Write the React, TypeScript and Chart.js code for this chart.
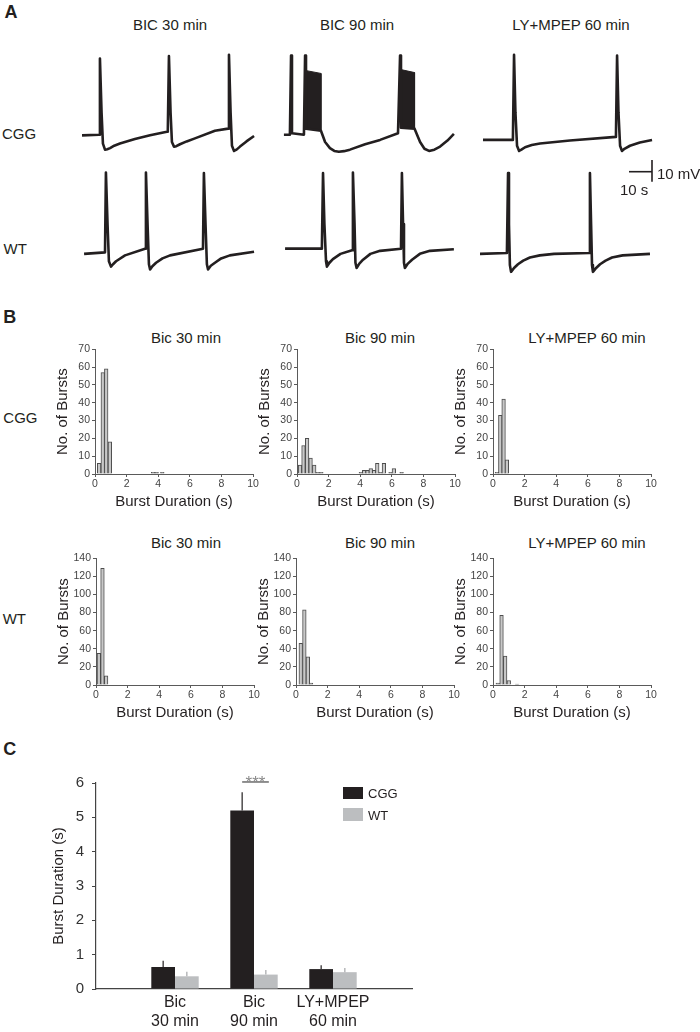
import React, { useEffect, useRef } from 'react';
import { Chart, registerables } from 'chart.js';

Chart.register(...registerables);

const FONT = "'Liberation Sans', Arial, Helvetica, sans-serif";
Chart.defaults.font.family = FONT;

type Pt = [number, number];

const INK = '#231f20';
const LIGHT = '#bcbec0';

// ---------------- Panel A data (time s, membrane potential mV relative to rest) ----------------
const conditionTitles = ['BIC 30 min', 'BIC 90 min', 'LY+MPEP 60 min'];
const genotypes = ['CGG', 'WT'];
const scaleBarSeconds = 10;
const scaleBarMillivolts = 10;

const cggBic30Trace: Pt[] = [
  [0, 0], [7.4, 0.3], [7.8, 35.5], [8.5, 10.7], [9.1, -3.8], [10.0, -6.6], [11.0, -6.4], [12.2, -5.9], [14.0, -4.8], [16.5, -3.8],
  [23.0, -1.7], [29.6, 0], [36.9, 1.7], [37.3, 1.7], [37.8, 36.6], [38.5, 10.7], [39.1, -3.1], [40.0, -5.2], [41.0, -5.0],
  [42.6, -4.1], [45.5, -2.8], [49.1, -1.4], [57.8, 2.1], [63.5, 3.1], [63.9, 37.2], [64.6, 10.7], [65.2, -4.8], [66.1, -7.2],
  [67.2, -6.6], [68.7, -5.2], [71.5, -2.8], [74.8, -0.3],
];
const cggBic90Trace: Pt[] = [
  [0.4, 0.3], [3.0, 0.3], [3.5, 36.9], [3.9, 1.0], [9.1, 0.3], [9.6, 36.9], [10.0, 3.1], [16.5, 2.1],
  [18.3, -3.1], [20.4, -5.9], [22.3, -7.2], [24.3, -7.6], [26.5, -7.3], [29.1, -6.6], [35.7, -4.1], [42.2, -2.1], [50.0, 1.0],
  [50.9, 36.9], [51.3, 3.5], [57.2, 3.1], [59.6, -3.1], [61.5, -6.2], [63.5, -7.2], [65.8, -6.6], [68.3, -5.2], [71.5, -2.4], [74.3, 0.7],
];
const cggBic90Bursts: Pt[][] = [
  [[9.6, 2.8], [9.6, 30.0], [16.5, 28.6], [16.5, 2.1]],
  [[51.2, 3.5], [51.2, 30.4], [57.2, 29.0], [57.2, 3.1]],
];
const cggLyTrace: Pt[] = [
  [1.3, -2.1], [14.3, -2.1], [14.8, 37.2], [15.4, 10.7], [16.1, -4.8], [17.0, -7.2], [18.0, -6.6], [19.6, -5.5],
  [22.5, -4.5], [26.1, -3.8], [39.1, -2.4], [59.1, -0.7], [59.6, 36.9], [60.2, 10.7], [60.9, -4.8], [61.7, -7.2],
  [62.8, -6.2], [65.2, -4.8], [69.5, -3.3], [74.8, -2.1],
];
const wtBic30Trace: Pt[] = [
  [0.9, -0.7], [10.0, 0], [10.4, 36.9], [11.1, 13.1], [11.7, -4.1], [12.6, -6.6], [13.5, -5.5], [14.8, -4.1], [18.7, -1.4],
  [27.4, 1.7], [27.8, 36.9], [28.5, 13.1], [29.1, -5.5], [29.6, -7.9], [30.6, -6.4], [32.2, -4.8], [35.0, -2.8], [38.3, -1.4],
  [52.6, 1.7], [53.0, 36.6], [53.7, 13.1], [54.3, -5.5], [54.8, -7.9], [56.0, -6.2], [57.8, -4.8], [60.5, -2.8], [64.3, -1.4], [74.8, 0.3],
];
const wtBic90Trace: Pt[] = [
  [0.9, 1.7], [16.9, 1.7], [17.4, 36.6], [18.0, 13.1], [18.7, -4.1], [19.1, -6.6], [20.2, -4.8], [21.7, -3.1], [25.0, -0.7], [30.0, 1.0],
  [30.4, 36.9], [31.1, 13.1], [31.5, -4.8], [32.0, -7.2], [33.2, -5.2], [34.8, -3.4], [38.0, -0.7], [42.2, 0.7], [51.3, 1.7],
  [51.7, 36.6], [52.2, 13.1], [52.6, -4.8], [53.0, -7.2], [54.3, -5.2], [56.1, -3.4], [59.5, -0.7], [63.9, 0.7], [74.3, 1.4],
];
const wtLyTrace: Pt[] = [
  [0, -0.7], [11.7, -0.3], [12.2, 36.6], [12.6, 13.1], [13.0, -5.9], [13.5, -9.0], [14.8, -7.2], [16.5, -5.5], [18.8, -3.8], [21.7, -2.4],
  [26.0, -1.4], [32.2, -0.7], [47.4, -0.3], [47.8, 36.6], [48.3, 13.1], [48.7, -5.9], [49.1, -9.0], [50.5, -7.2], [52.2, -5.5],
  [54.6, -3.8], [57.4, -2.4], [62.0, -1.4], [73.9, -0.7],
];

// ---------------- Panel B data (bin centre s, count) ----------------
const histTitles = ['Bic 30 min', 'Bic 90 min', 'LY+MPEP 60 min'];
const cggBic30Bins = [0.26, 0.49, 0.71, 0.94, 3.68, 3.9, 4.26];
const cggBic30Counts = [6, 57, 59, 18, 1, 1, 1];
const cggBic90Bins = [0.19, 0.41, 0.64, 0.86, 1.09, 1.31, 1.54, 4.04, 4.25, 4.46, 4.67, 4.88, 5.08, 5.29, 5.5, 5.92, 6.13, 6.62];
const cggBic90Counts = [5, 16, 20, 9, 5, 1, 1, 1, 2, 2, 3, 2, 6, 1, 6, 1, 3, 1];
const cggLyBins = [0.25, 0.46, 0.67, 0.88];
const cggLyCounts = [1, 33, 42, 8];
const wtBic30Bins = [0.18, 0.41, 0.64];
const wtBic30Counts = [35, 129, 10];
const wtBic90Bins = [0.3, 0.53, 0.75, 0.95];
const wtBic90Counts = [46, 83, 31, 2];
const wtLyBins = [0.3, 0.54, 0.77, 1.0, 1.53];
const wtLyCounts = [2, 77, 32, 5, 1];
const histXTicks = [0, 2, 4, 6, 8, 10];
const cggHistMax = 70;
const wtHistMax = 140;

// ---------------- Panel C data ----------------
const groupLabels = [['Bic', '30 min'], ['Bic', '90 min'], ['LY+MPEP', '60 min']];
const seriesNames = ['CGG', 'WT'];
const cggMeans = [0.64, 5.2, 0.58];
const cggSem = [0.18, 0.53, 0.11];
const wtMeans = [0.37, 0.42, 0.49];
const wtSem = [0.13, 0.13, 0.12];
const sigGroupIndex = 1;
const sigLevel = 6.03;
const sigLabel = '***';

// ---------------- geometry (layout only) ----------------
const PX_PER_S = 2.3;
const PX_PER_MV = 2.165;
const TRACE_W = 173;
const TRACE_H = 104;
const TRACE_VMIN = -10;
const TRACE_VMAX = TRACE_VMIN + TRACE_H / PX_PER_MV;

function ChartBox({ left, top, width, height, make }: { left: number; top: number; width: number; height: number; make: () => any }) {
  const ref = useRef<HTMLCanvasElement>(null);
  useEffect(() => {
    const chart = new Chart(ref.current as HTMLCanvasElement, make());
    return () => chart.destroy();
  }, []);
  return (
    <canvas
      ref={ref}
      width={width}
      height={height}
      style={{ position: 'absolute', left, top, width, height }}
    />
  );
}

function Txt({ x, y, children, size = 15, bold = false, align = 'left', color = INK }: any) {
  const tx = align === 'center' ? '-50%' : '0';
  return (
    <div
      style={{
        position: 'absolute', left: x, top: y, transform: `translate(${tx}, -50%)`,
        fontSize: size, fontWeight: bold ? 700 : 400, lineHeight: 1, whiteSpace: 'nowrap', color, fontFamily: FONT,
      }}
    >
      {children}
    </div>
  );
}

const toXY = (p: Pt[]) => p.map(([x, y]) => ({ x, y }));

function baseOptions() {
  return {
    responsive: false,
    animation: false,
    events: [],
    plugins: { legend: { display: false }, tooltip: { enabled: false } },
  };
}

function traceConfig(trace: Pt[], bursts: Pt[][]) {
  return {
    type: 'line',
    data: {
      datasets: [
        { data: toXY(trace), borderColor: INK, borderWidth: 2.6, pointRadius: 0, fill: false, tension: 0, borderJoinStyle: 'round' },
        ...bursts.map((b) => ({ data: toXY(b), borderColor: INK, backgroundColor: INK, borderWidth: 1, pointRadius: 0, fill: 'shape', tension: 0 })),
      ],
    },
    options: {
      ...baseOptions(),
      layout: { padding: 0 },
      scales: {
        x: { type: 'linear', min: 0, max: TRACE_W / PX_PER_S, display: false },
        y: { type: 'linear', min: TRACE_VMIN, max: TRACE_VMAX, display: false },
      },
    },
  };
}

function scaleBarConfig() {
  const xMin = -32 / PX_PER_S;
  const yMax = 15.7 / PX_PER_MV;
  const vTop = 11.7 / PX_PER_MV;
  return {
    type: 'line',
    data: {
      datasets: [
        { data: [{ x: -scaleBarSeconds, y: 0 }, { x: 0, y: 0 }], borderColor: INK, borderWidth: 1.6, pointRadius: 0 },
        { data: [{ x: 0, y: vTop }, { x: 0, y: vTop - scaleBarMillivolts }], borderColor: INK, borderWidth: 1.6, pointRadius: 0 },
      ],
    },
    options: {
      ...baseOptions(),
      layout: { padding: 0 },
      scales: {
        x: { type: 'linear', min: xMin, max: xMin + 40 / PX_PER_S, display: false },
        y: { type: 'linear', min: yMax - 30 / PX_PER_MV, max: yMax, display: false },
      },
    },
  };
}

const HIST_AXIS = '#5a5a5a';

function histConfig(bins: number[], counts: number[], yMax: number) {
  const step = yMax / 7;
  return {
    type: 'bar',
    data: {
      datasets: [
        {
          data: bins.map((x, i) => ({ x, y: counts[i] })),
          backgroundColor: '#c8c8c8',
          borderColor: '#4d4d4d',
          borderWidth: 1,
          barThickness: 3.6,
          borderSkipped: 'start',
        },
      ],
    },
    options: {
      ...baseOptions(),
      layout: { padding: { top: 8, right: 12, left: 0, bottom: 0 } },
      scales: {
        x: {
          type: 'linear', min: 0, max: 10, offset: false,
          afterBuildTicks: (s: any) => { s.ticks = histXTicks.map((v) => ({ value: v })); },
          grid: { display: true, drawOnChartArea: false, drawTicks: true, tickLength: 3, color: HIST_AXIS, offset: false },
          border: { display: true, color: HIST_AXIS, width: 1 },
          ticks: { autoSkip: false, maxRotation: 0, padding: 1, color: '#444', font: { size: 10.5 } },
          title: { display: true, text: 'Burst Duration (s)', color: INK, font: { size: 15 }, padding: { top: 0, bottom: 1 } },
          afterFit: (s: any) => { s.height = 38; },
        },
        y: {
          type: 'linear', min: 0, max: yMax,
          grid: { display: true, drawOnChartArea: false, drawTicks: true, tickLength: 3, color: HIST_AXIS },
          border: { display: true, color: HIST_AXIS, width: 1 },
          ticks: { stepSize: step, autoSkip: false, padding: 2, color: '#444', font: { size: 10.5 } },
          title: { display: true, text: 'No. of Bursts', color: INK, font: { size: 15 }, padding: { top: 4, bottom: 0 } },
          afterFit: (s: any) => { s.width = 45; },
        },
      },
    },
  };
}

const errorBarPlugin = {
  id: 'errorBarsAndSig',
  afterDatasetsDraw(chart: any) {
    const ctx = chart.ctx;
    const yS = chart.scales.y;
    const series = [
      { means: cggMeans, sem: cggSem, color: INK },
      { means: wtMeans, sem: wtSem, color: '#a4a6a9' },
    ];
    ctx.save();
    series.forEach((s, di) => {
      const meta = chart.getDatasetMeta(di);
      s.means.forEach((m, i) => {
        const bar = meta.data[i + 1];
        if (!bar) return;
        ctx.strokeStyle = s.color;
        ctx.lineWidth = 1.2;
        ctx.beginPath();
        ctx.moveTo(bar.x, yS.getPixelForValue(m));
        ctx.lineTo(bar.x, yS.getPixelForValue(m + s.sem[i]));
        ctx.stroke();
      });
    });
    const a = chart.getDatasetMeta(0).data[sigGroupIndex + 1];
    const b = chart.getDatasetMeta(1).data[sigGroupIndex + 1];
    const ly = yS.getPixelForValue(sigLevel);
    ctx.strokeStyle = '#555';
    ctx.lineWidth = 1.3;
    ctx.beginPath();
    ctx.moveTo(a.x, ly);
    ctx.lineTo(b.x + 3, ly);
    ctx.stroke();
    ctx.fillStyle = '#8a8a8a';
    ctx.font = `17px ${FONT}`;
    ctx.textAlign = 'center';
    ctx.textBaseline = 'alphabetic';
    ctx.fillText(sigLabel, (a.x + b.x + 3) / 2, ly + 6);
    ctx.restore();
  },
};

function barConfig() {
  return {
    type: 'bar',
    data: {
      labels: ['', ...groupLabels, ''],
      datasets: [
        { label: seriesNames[0], data: [null, ...cggMeans, null], backgroundColor: INK, categoryPercentage: 0.6, barPercentage: 1 },
        { label: seriesNames[1], data: [null, ...wtMeans, null], backgroundColor: LIGHT, categoryPercentage: 0.6, barPercentage: 1 },
      ],
    },
    options: {
      ...baseOptions(),
      layout: { padding: { top: 23, right: 20, left: 0, bottom: 0 } },
      scales: {
        x: {
          type: 'category', offset: false,
          grid: { display: false, drawTicks: false, offset: false },
          border: { display: true, color: '#444', width: 1.2 },
          ticks: { autoSkip: false, maxRotation: 0, padding: 4, color: INK, font: { size: 16 } },
          afterFit: (s: any) => { s.height = 43; },
        },
        y: {
          type: 'linear', min: 0, max: 6,
          grid: { display: true, drawOnChartArea: false, drawTicks: true, tickLength: 4, color: '#444' },
          border: { display: true, color: '#444', width: 1.2 },
          ticks: { stepSize: 1, autoSkip: false, padding: 8, color: '#333', font: { size: 15 } },
          title: { display: true, text: 'Burst Duration (s)', color: INK, font: { size: 15 }, padding: { top: 14, bottom: 0 } },
          afterFit: (s: any) => { s.width = 60; },
        },
      },
    },
    plugins: [errorBarPlugin],
  };
}

export default function App() {
  const colLefts = [82, 283, 480];
  const cggTraces = [cggBic30Trace, cggBic90Trace, cggLyTrace];
  const cggBursts = [[], cggBic90Bursts, []];
  const wtTraces = [wtBic30Trace, wtBic90Trace, wtLyTrace];
  const cggBaseY = 135;
  const wtBaseY = 252.3;
  const cggTop = cggBaseY - TRACE_VMAX * PX_PER_MV;
  const wtTop = wtBaseY - TRACE_VMAX * PX_PER_MV;

  const cggHists = [
    { bins: cggBic30Bins, counts: cggBic30Counts, left: 95 },
    { bins: cggBic90Bins, counts: cggBic90Counts, left: 297 },
    { bins: cggLyBins, counts: cggLyCounts, left: 493 },
  ];
  const wtHists = [
    { bins: wtBic30Bins, counts: wtBic30Counts, left: 96 },
    { bins: wtBic90Bins, counts: wtBic90Counts, left: 296 },
    { bins: wtLyBins, counts: wtLyCounts, left: 493 },
  ];
  const aTitleX = [170, 357, 571];
  const bTitleX = [186, 380, 587];

  return (
    <div style={{ position: 'absolute', left: 0, top: 0, width: 700, height: 1032, background: '#fff', fontFamily: FONT, overflow: 'hidden' }}>
      {/* Panel A */}
      <Txt x={4.5} y={11.7} size={18} bold>A</Txt>
      {conditionTitles.map((t, i) => (
        <Txt key={t} x={aTitleX[i]} y={24} align="center">{t}</Txt>
      ))}
      <Txt x={2} y={133.3}>{genotypes[0]}</Txt>
      <Txt x={3.6} y={248.3}>{genotypes[1]}</Txt>
      {cggTraces.map((tr, i) => (
        <ChartBox key={'ca' + i} left={colLefts[i]} top={cggTop} width={TRACE_W} height={TRACE_H} make={() => traceConfig(tr, cggBursts[i])} />
      ))}
      {wtTraces.map((tr, i) => (
        <ChartBox key={'wa' + i} left={colLefts[i]} top={wtTop} width={TRACE_W} height={TRACE_H} make={() => traceConfig(tr, [])} />
      ))}
      <ChartBox left={620} top={156} width={40} height={30} make={scaleBarConfig} />
      <Txt x={657} y={172.7}>{`${scaleBarMillivolts} mV`}</Txt>
      <Txt x={620} y={189.3}>{`${scaleBarSeconds} s`}</Txt>

      {/* Panel B */}
      <Txt x={3.3} y={316.5} size={18} bold>B</Txt>
      <Txt x={3.3} y={416.7}>{genotypes[0]}</Txt>
      <Txt x={2.7} y={618.3}>{genotypes[1]}</Txt>
      {histTitles.map((t, i) => (
        <Txt key={'bt1' + i} x={bTitleX[i]} y={337} align="center">{t}</Txt>
      ))}
      {histTitles.map((t, i) => (
        <Txt key={'bt2' + i} x={bTitleX[i]} y={541.7} align="center">{t}</Txt>
      ))}
      {cggHists.map((h, i) => (
        <ChartBox key={'hb1' + i} left={h.left - 45} top={349 - 8} width={215} height={8 + 125 + 38} make={() => histConfig(h.bins, h.counts, cggHistMax)} />
      ))}
      {wtHists.map((h, i) => (
        <ChartBox key={'hb2' + i} left={h.left - 45} top={558 - 8} width={215} height={8 + 127 + 38} make={() => histConfig(h.bins, h.counts, wtHistMax)} />
      ))}

      {/* Panel C */}
      <Txt x={3.3} y={749.3} size={18} bold>C</Txt>
      <ChartBox left={36} top={760} width={396} height={272} make={barConfig} />
      <div style={{ position: 'absolute', left: 342.7, top: 786.7, width: 20.6, height: 12.6, background: INK }} />
      <Txt x={368} y={792.7} size={13}>{seriesNames[0]}</Txt>
      <div style={{ position: 'absolute', left: 342.7, top: 808.3, width: 20.6, height: 12.4, background: LIGHT }} />
      <Txt x={368} y={814.5} size={13}>{seriesNames[1]}</Txt>
    </div>
  );
}
